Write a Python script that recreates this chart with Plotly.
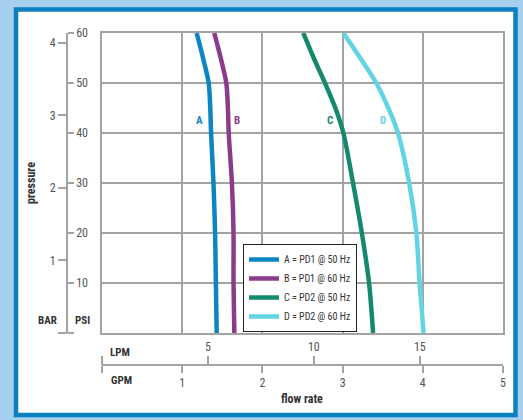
import plotly.graph_objects as go

# ---------------- data ----------------
psi = [60, 55, 50, 45, 40, 30, 20, 10, 0]
gpm_A = [1.18, 1.26, 1.33, 1.35, 1.36, 1.39, 1.41, 1.42, 1.43]
gpm_B = [1.40, 1.48, 1.55, 1.57, 1.58, 1.62, 1.64, 1.64, 1.65]
gpm_C = [2.51, 2.64, 2.78, 2.91, 3.01, 3.13, 3.24, 3.33, 3.38]
gpm_D = [3.01, 3.22, 3.42, 3.57, 3.69, 3.83, 3.92, 3.96, 4.01]
series_names = ["A = PD1 @ 50 Hz", "B = PD1 @ 60 Hz", "C = PD2 @ 50 Hz", "D = PD2 @ 60 Hz"]
series_letters = ["A", "B", "C", "D"]
series_colors = ["#0b86c3", "#8c3a8b", "#15896b", "#62d4e4"]
label_gpm = [1.22, 1.68, 2.84, 3.50]
label_psi = 42.6

gpm_ticks = [0, 1, 2, 3, 4, 5]
lpm_ticks = [0, 5, 10, 15]
psi_ticks = [0, 10, 20, 30, 40, 50, 60]
bar_ticks = [0, 1, 2, 3, 4]
LPM_PER_GPM = 3.78541
PSI_PER_BAR = 14.5038

# ---------------- geometry ----------------
W, H = 523, 420
ML, MR, MT, MB = 20, 20, 33, 20
PW, PH = W - ML - MR, H - MT - MB


def px(x):
    return (x - ML) / PW


def py(y):
    return (H - MB - y) / PH


FONT = "Liberation Sans Narrow, Arial Narrow, Roboto Condensed, sans-serif"
GRID = "#a3a3a3"
TXT = "#555555"
BOLD = "#333333"

xdom = [px(102), 1.0]
ydom = [py(333), 1.0]

fig = go.Figure()
for xs, nm, col in zip([gpm_A, gpm_B, gpm_C, gpm_D], series_names, series_colors):
    fig.add_trace(go.Scatter(x=xs, y=psi, mode="lines", name=nm,
                             line=dict(color=col, width=4.5, shape="spline", smoothing=0.8)))

# empty traces so that the extra (free) axes get drawn
for xa, ya in [("x2", "y"), ("x3", "y"), ("x", "y2"), ("x", "y3")]:
    fig.add_trace(go.Scatter(x=[None], y=[None], xaxis=xa, yaxis=ya, mode="lines",
                             showlegend=False, hoverinfo="skip"))

for lt, gx, col in zip(series_letters, label_gpm, series_colors):
    fig.add_annotation(x=gx, y=label_psi, xref="x", yref="y", text="<b>%s</b>" % lt,
                       showarrow=False, font=dict(family=FONT, size=11, color=col))

axis_font = dict(family=FONT, size=12, color=TXT)

fig.update_layout(
    width=W, height=H,
    margin=dict(l=ML, r=MR, t=MT, b=MB),
    paper_bgcolor="#a6cff0",
    plot_bgcolor="white",
    showlegend=True,
    legend=dict(x=px(243), y=py(288), xanchor="left", yanchor="middle",
                bgcolor="white", bordercolor="#222222", borderwidth=1,
                font=dict(family=FONT, size=10, color="#333333"),
                itemwidth=30, tracegroupgap=0),
    xaxis=dict(domain=xdom, range=[0, 5], anchor="y", showgrid=True, gridcolor=GRID, gridwidth=1.5,
               dtick=1, showticklabels=False, ticks="", zeroline=False,
               showline=True, linecolor=GRID, linewidth=1.5, mirror=True),
    yaxis=dict(domain=ydom, range=[0, 60], anchor="x", showgrid=True, gridcolor=GRID, gridwidth=1.5,
               dtick=10, showticklabels=False, ticks="", zeroline=False,
               showline=True, linecolor=GRID, linewidth=1.5, mirror=True),
    # GPM axis (below)
    xaxis2=dict(domain=xdom, range=[0, 5], overlaying="x", anchor="free", position=py(365),
                side="bottom", showgrid=False, zeroline=False, showline=True, linecolor=GRID, linewidth=1.5,
                ticks="outside", ticklen=7, tickwidth=1.5, tickcolor=GRID,
                tickmode="array", tickvals=gpm_ticks, ticktext=[""] + [str(v) for v in gpm_ticks[1:]],
                tickfont=axis_font),
    # LPM axis (above the same line)
    xaxis3=dict(domain=xdom, range=[0, 5 * LPM_PER_GPM], overlaying="x", anchor="free", position=py(365),
                side="top", showgrid=False, zeroline=False, showline=False,
                ticks="outside", ticklen=9, tickwidth=1.5, tickcolor=GRID,
                tickmode="array", tickvals=lpm_ticks, ticktext=[""] + [str(v) for v in lpm_ticks[1:]],
                tickfont=axis_font),
    # PSI axis
    yaxis2=dict(domain=ydom, range=[0, 60], overlaying="y", anchor="free", position=px(67),
                side="right", showgrid=False, zeroline=False, showline=True, linecolor=GRID, linewidth=1.5,
                ticks="outside", ticklen=6, tickwidth=1.5, tickcolor=GRID,
                tickmode="array", tickvals=psi_ticks, ticktext=[""] + [str(v) for v in psi_ticks[1:]],
                tickfont=axis_font),
    # BAR axis
    yaxis3=dict(domain=ydom, range=[0, 60 / PSI_PER_BAR], overlaying="y", anchor="free", position=px(67),
                side="left", showgrid=False, zeroline=False, showline=False,
                ticks="outside", ticklen=9, tickwidth=1.5, tickcolor=GRID,
                tickmode="array", tickvals=bar_ticks, ticktext=[""] + [str(v) for v in bar_ticks[1:]],
                tickfont=axis_font),
)

# frame
fig.add_shape(type="rect", xref="paper", yref="paper", layer="below",
              x0=px(16), x1=px(515.5), y0=py(415), y1=py(9.5),
              line=dict(color="#0a80bf", width=4.5), fillcolor="white")

# axis titles
def lab(text, x, y, size=11, angle=0):
    fig.add_annotation(x=px(x), y=py(y), xref="paper", yref="paper", text="<b>%s</b>" % text,
                       showarrow=False, textangle=angle, xanchor="center", yanchor="middle",
                       font=dict(family=FONT, size=size, color=BOLD))

lab("BAR", 47.5, 320)
lab("PSI", 82, 320)
lab("LPM", 120, 352)
lab("GPM", 121, 380)
lab("flow rate", 302, 399, size=12)
lab("pressure", 31, 183, size=12, angle=-90)

fig.write_html("out.html", config={"displayModeBar": False},
               post_script="document.body.style.margin='0';document.body.style.overflow='hidden';")
